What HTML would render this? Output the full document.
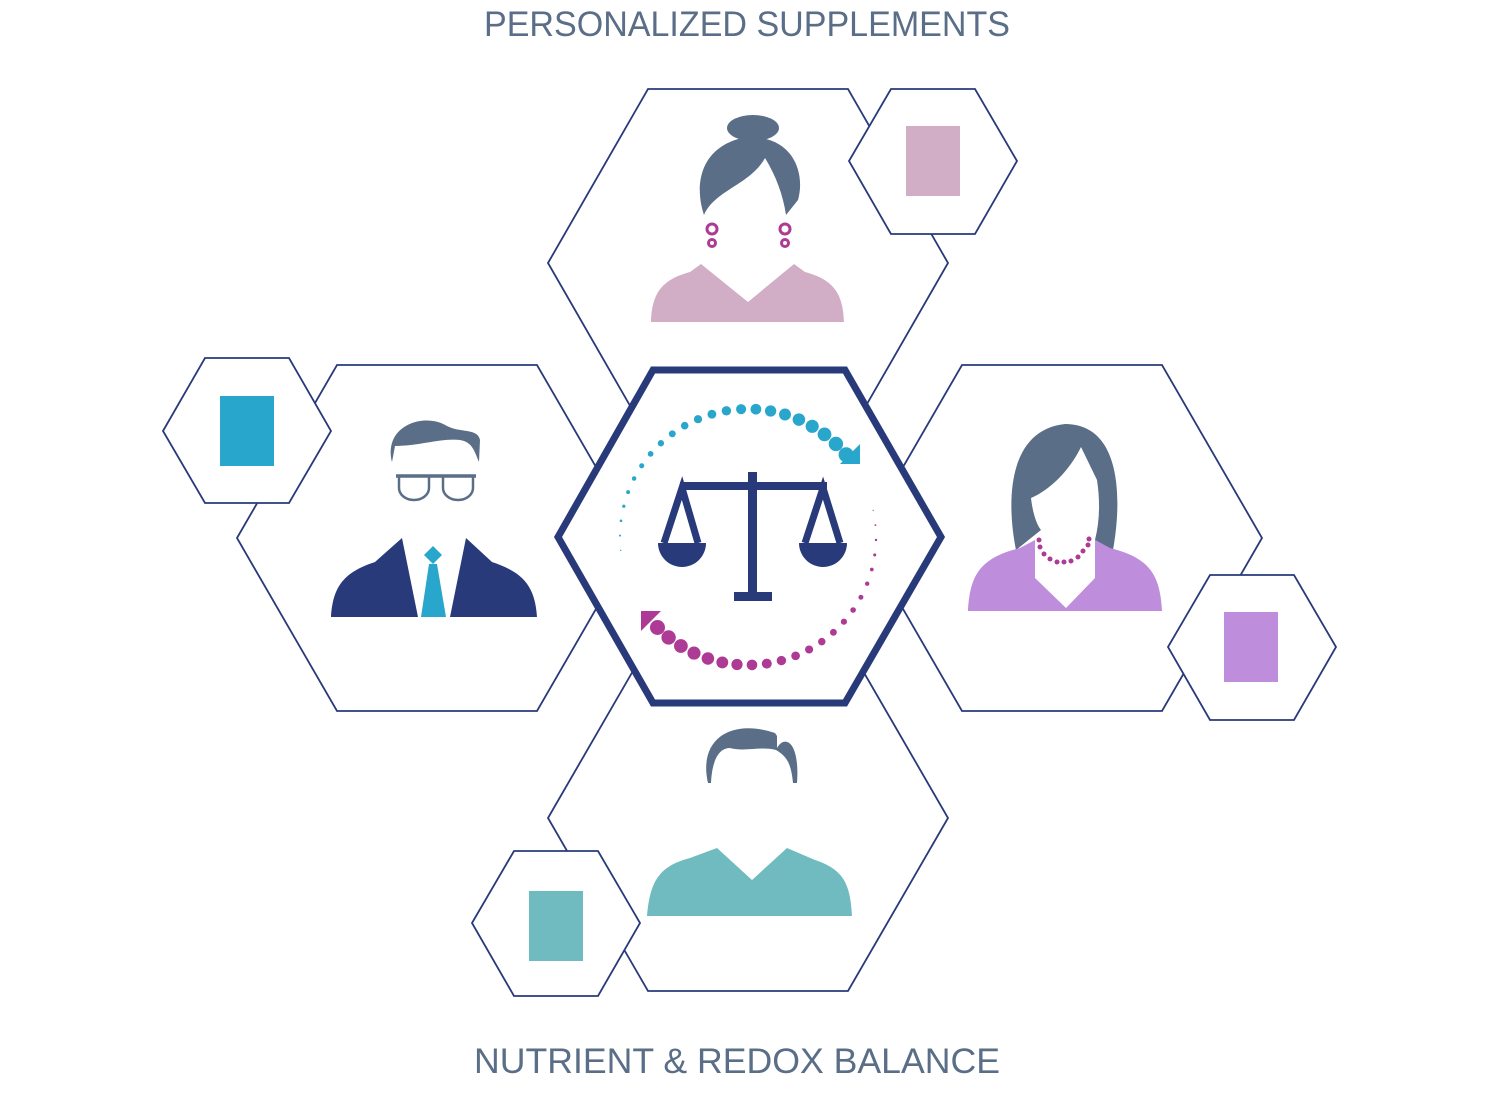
<!DOCTYPE html>
<html><head><meta charset="utf-8"><style>
html,body{margin:0;padding:0;background:#fff;width:1500px;height:1108px;overflow:hidden}
text{font-family:"Liberation Sans",sans-serif;fill:#5a6e87}
</style></head><body>
<svg width="1500" height="1108" viewBox="0 0 1500 1108" xmlns="http://www.w3.org/2000/svg">
<text x="747" y="36" font-size="35" text-anchor="middle" textLength="526" lengthAdjust="spacingAndGlyphs">PERSONALIZED SUPPLEMENTS</text>
<text x="737" y="1073" font-size="35" text-anchor="middle" textLength="526" lengthAdjust="spacingAndGlyphs">NUTRIENT &amp; REDOX BALANCE</text>
<g fill="#fff" stroke="#283a7a" stroke-width="1.8">
<polygon points="548,263 648,89 848,89 948,263 848,437 648,437"/>
<polygon points="237,538 337,365 537,365 637,538 537,711 337,711"/>
<polygon points="862,538 962,365 1162,365 1262,538 1162,711 962,711"/>
<polygon points="548,818 648,645 848,645 948,818 848,991 648,991"/>
<polygon points="849,161 891,89 975,89 1017,161 975,234 891,234"/>
<polygon points="163,431 205,358 289,358 331,431 289,503 205,503"/>
<polygon points="1168,647 1210,575 1294,575 1336,647 1294,720 1210,720"/>
<polygon points="472,923 514,851 598,851 640,923 598,996 514,996"/>
</g>
<polygon points="558,537 653,370 845,370 941,537 845,703 653,703" fill="#fff" stroke="#283a7a" stroke-width="7"/>
<rect x="906" y="126" width="54" height="70" fill="#d1aec6"/>
<rect x="220" y="396" width="54" height="70" fill="#29a6cb"/>
<rect x="1224" y="612" width="54" height="70" fill="#be8ddb"/>
<rect x="529" y="891" width="54" height="70" fill="#6fbbbf"/>
<!-- top woman -->
<ellipse cx="753" cy="128" rx="26" ry="13" fill="#5a6e87"/>
<path d="M704,215 C694,185 700,148 742,138 C792,132 806,172 798,200 L786,215 C783,195 776,176 765,158 C750,185 715,190 704,215 Z" fill="#5a6e87"/>
<g fill="none" stroke="#ad3a94" stroke-width="3"><circle cx="712" cy="229" r="5"/><circle cx="712" cy="243" r="3.5"/><circle cx="785" cy="229" r="5"/><circle cx="785" cy="243" r="3.5"/></g>
<path d="M651,322 C652,295 660,280 690,272 L701,264 L748,302 L794,264 L805,272 C835,280 843,295 844,322 Z" fill="#d1aec6"/>
<!-- left man -->
<path d="M392,462 C383,425 425,412 447,426 C460,433 478,428 480,440 L479,462 C474,450 472,442 460,440 C440,438 420,446 395,446 Z" fill="#5a6e87"/>
<g fill="none" stroke="#5a6e87" stroke-width="2.5"><line x1="396" y1="476" x2="476" y2="476" stroke-width="3.5"/><path d="M399,476 L399,488 A15,12 0 0 0 429,488 L429,476"/><path d="M443,476 L443,488 A15,12 0 0 0 473,488 L473,476"/></g>
<path d="M331,617 C333,585 345,572 375,562 L402,538 L418,617 Z" fill="#283a7a"/>
<path d="M450,617 L466,538 L492,562 C522,572 535,585 537,617 Z" fill="#283a7a"/>
<polygon points="433,546 442,555 433,564 424,555" fill="#29a6cb"/>
<polygon points="429,564 437,564 446,617 421,617" fill="#29a6cb"/>
<!-- right woman -->
<path d="M1016,550 C1006,500 1008,430 1065,424 C1122,424 1122,500 1113,550 L1095,540 C1100,520 1100,500 1097,480 L1081,447 C1070,470 1050,490 1031,498 C1033,515 1037,525 1041,530 Z" fill="#5a6e87"/>
<path d="M968,611 C970,575 980,558 1020,548 L1035,540 L1035,578 L1066,608 L1095,578 L1095,540 L1110,548 C1150,558 1160,575 1162,611 Z" fill="#be8ddb"/>
<g fill="#ad3a94"><circle cx="1039" cy="540" r="2.5"/><circle cx="1040" cy="547" r="2.5"/><circle cx="1044" cy="554" r="2.5"/><circle cx="1050" cy="559" r="2.5"/><circle cx="1057" cy="562" r="2.5"/><circle cx="1064" cy="562" r="2.5"/><circle cx="1071" cy="561" r="2.5"/><circle cx="1078" cy="557" r="2.5"/><circle cx="1083" cy="551" r="2.5"/><circle cx="1088" cy="545" r="2.5"/><circle cx="1089" cy="539" r="2.5"/></g>
<!-- bottom man -->
<path d="M708,783 C698,740 730,718 775,733 L777,736 L777,748 C785,734 800,742 797,783 L793,783 C791,762 786,756 776,750 C760,746 745,752 730,748 C718,748 712,762 711,783 Z" fill="#5a6e87"/>
<path d="M647,916 C650,880 660,866 690,858 L717,848 L752,880 L787,848 L815,860 C845,870 850,885 852,916 Z" fill="#6fbbbf"/>
<!-- scales -->
<g fill="#283a7a">
<rect x="680" y="482" width="147" height="8"/>
<rect x="748" y="472" width="9" height="126"/>
<rect x="734" y="592" width="38" height="9"/>
<path d="M658,543 A24,24 0 0 0 706,543 Z"/>
<path d="M799,543 A24,24 0 0 0 847,543 Z"/>
</g>
<g fill="none" stroke="#283a7a" stroke-width="7" stroke-linejoin="miter">
<polyline points="664,543 682,488 698,543"/>
<polyline points="805,543 823,488 840,543"/>
</g>
<g id="dots"></g>
<polygon points="860,444 860,464 840,464" fill="#29a6cb"/>
<polygon points="641,611 661,611 641,631" fill="#ad3a94"/>
</svg>
<script>
(function(){
var g=document.getElementById('dots'),ns='http://www.w3.org/2000/svg',cx=748,cy=537,r=128,s='';
function arc(a0,a1,n,c,r0,r1){for(var i=0;i<n;i++){var t=i/(n-1),a=(a0+(a1-a0)*t)*Math.PI/180;s+='<circle cx="'+(cx+r*Math.cos(a)).toFixed(1)+'" cy="'+(cy+r*Math.sin(a)).toFixed(1)+'" r="'+(r0+(r1-r0)*t).toFixed(2)+'" fill="'+c+'"/>';}}
arc(174,320,23,'#29a6cb',0.7,7.5);
arc(-12,135,23,'#ad3a94',0.6,7.5);
g.innerHTML=s;
})();
</script>
</body></html>
